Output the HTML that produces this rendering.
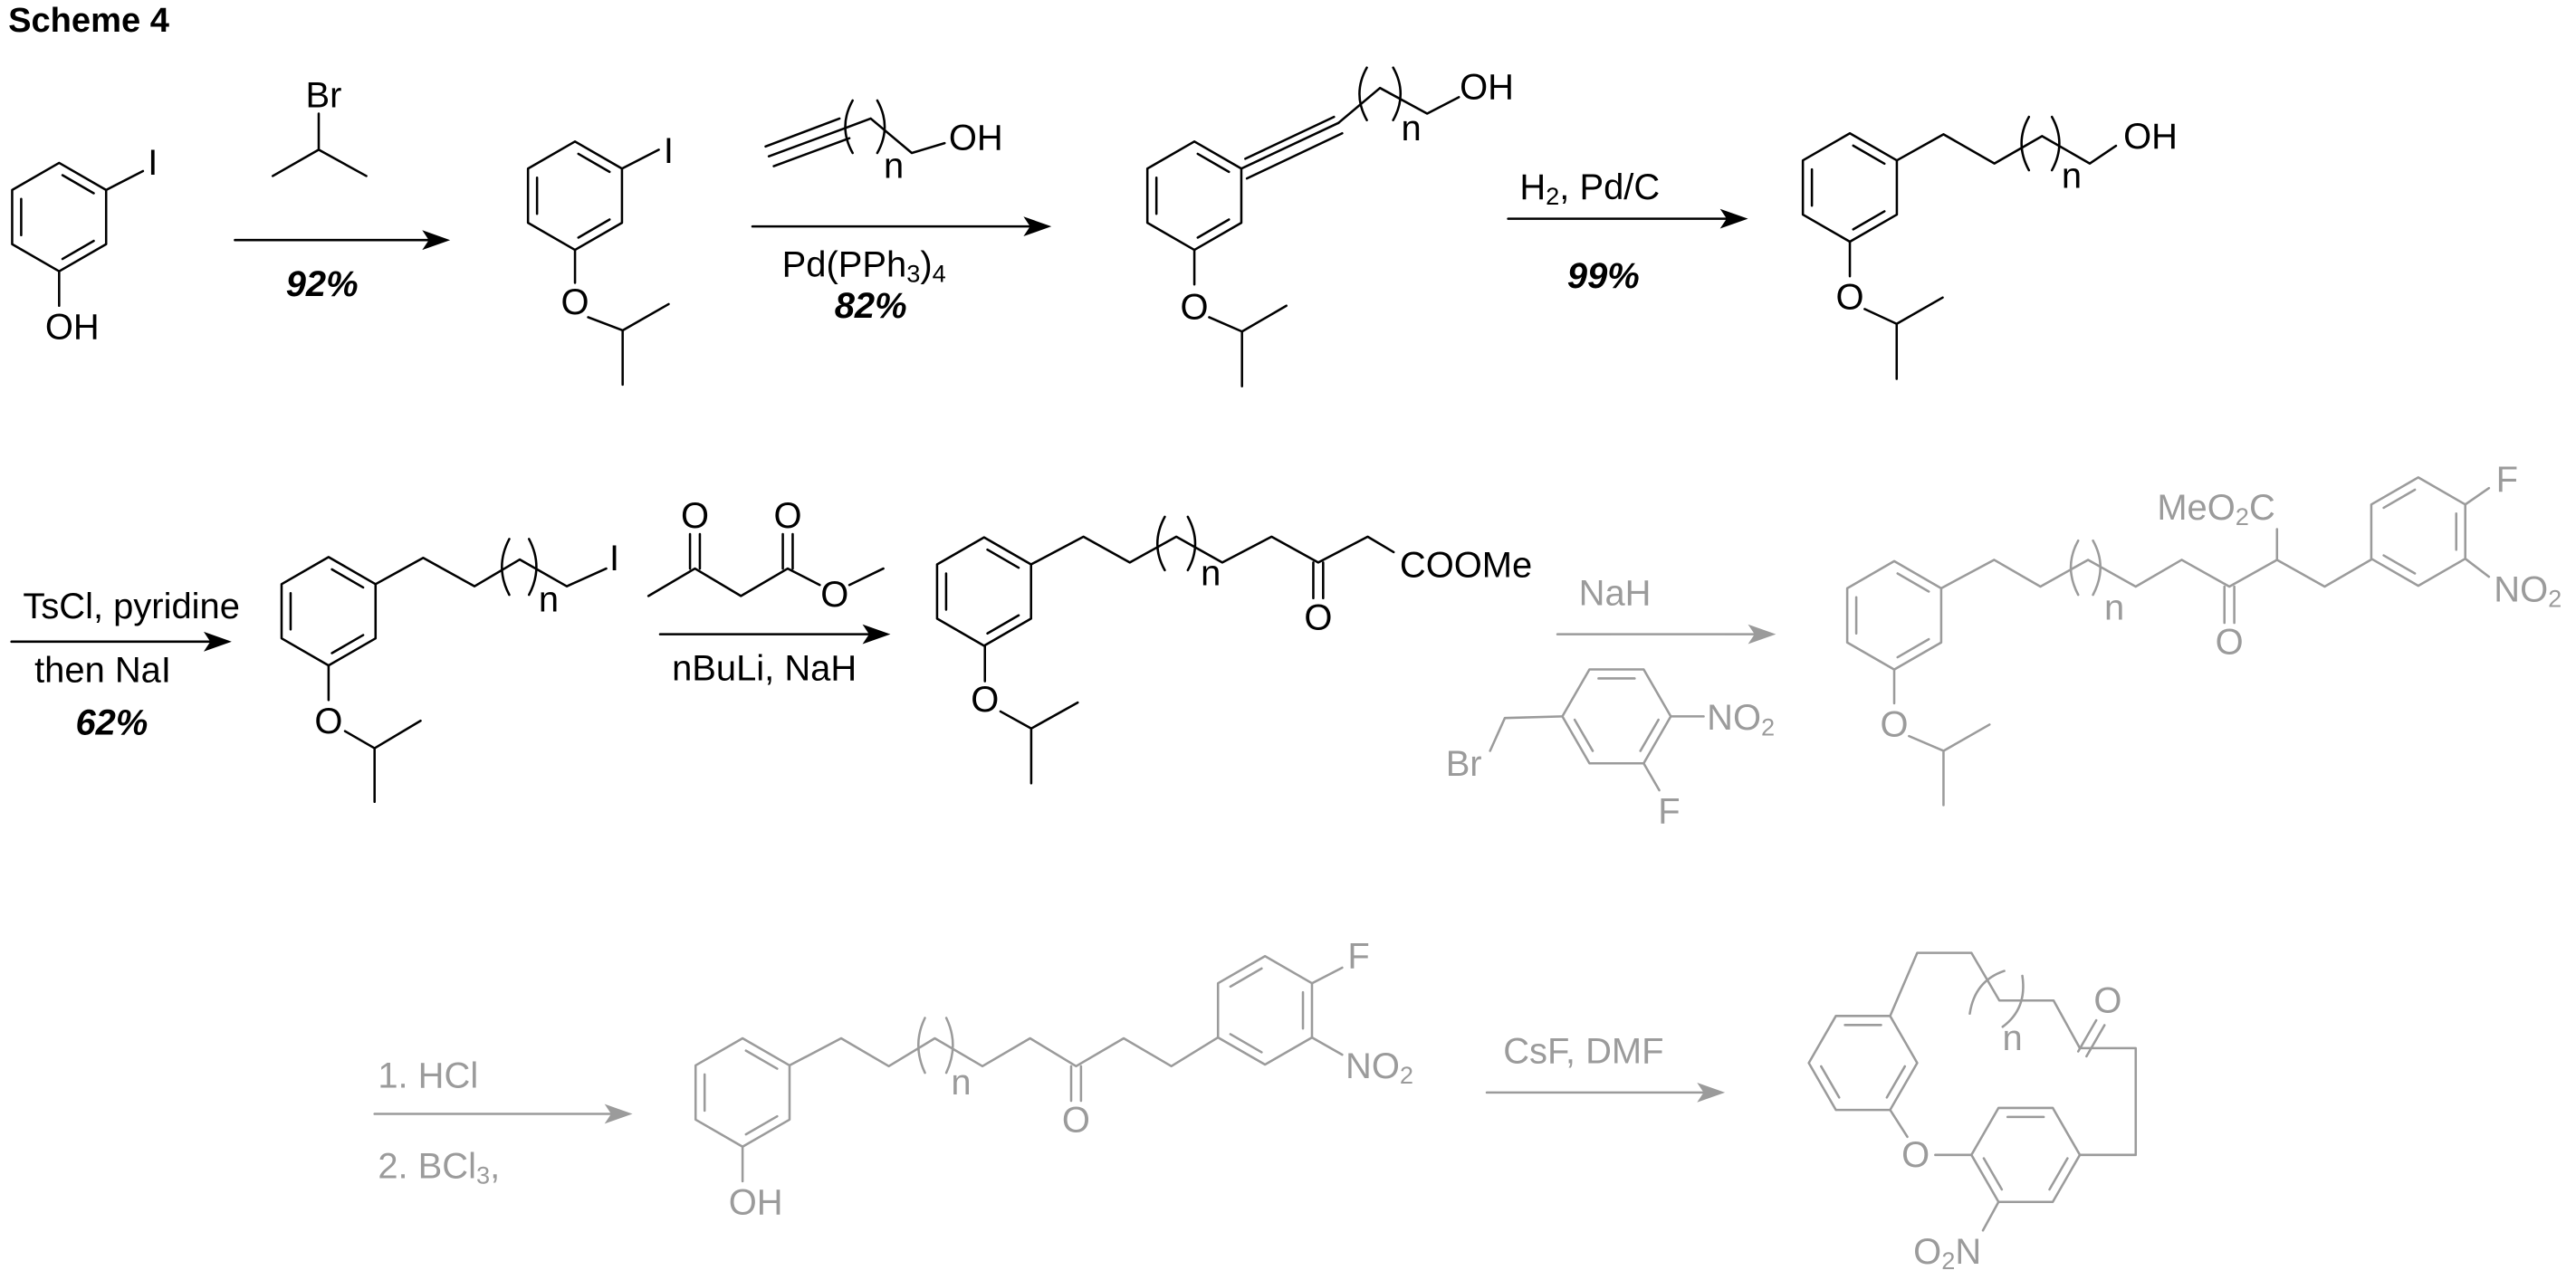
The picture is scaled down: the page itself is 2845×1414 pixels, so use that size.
<!DOCTYPE html>
<html><head><meta charset="utf-8"><style>
html,body{margin:0;padding:0;background:#fff;}
svg{display:block;}
text{font-family:"Liberation Sans",Arial,sans-serif;font-size:22px;}
.c{text-anchor:middle;dominant-baseline:central;}
.s{dominant-baseline:central;}
.b{font-weight:bold;font-style:italic;}
</style></head><body>
<svg width="2845" height="1414" viewBox="0 0 1568 779" xmlns="http://www.w3.org/2000/svg">
<defs>
<g id="rA" fill="none">
<path d="M0,-33 L28.6,-16.5 L28.6,16.5 L0,33 L-28.6,16.5 L-28.6,-16.5 Z"/>
<path d="M-23.1,-11 L-23.1,11 M2.05,-25.5 L21.05,-14.5 M21.05,14.5 L2.05,25.5"/>
</g>
<g id="rB" fill="none">
<path d="M0,-33 L28.6,-16.5 L28.6,16.5 L0,33 L-28.6,16.5 L-28.6,-16.5 Z"/>
<path d="M23.1,-11 L23.1,11 M-2.05,-25.5 L-21.05,-14.5 M-21.05,14.5 L-2.05,25.5"/>
</g>
<g id="rC" fill="none">
<path d="M33,0 L16.5,28.6 L-16.5,28.6 L-33,0 L-16.5,-28.6 L16.5,-28.6 Z"/>
<path d="M-11,-23.1 L11,-23.1 M25.5,2.05 L14.5,21.05 M-25.5,2.05 L-14.5,21.05"/>
</g>
</defs>

<text x="5" y="19" style="font-weight:bold;font-size:21px">Scheme 4</text>

<!-- ROW 1 : black -->
<g stroke="#000" stroke-width="1.4" fill="none" stroke-linecap="round" stroke-linejoin="round">
<use href="#rA" transform="translate(36,132)"/>
<path d="M64.6,115.5 L87,104 M36,165 L36,186"/>
<path d="M194,69 L194,91 M194,91 L166,107 M194,91 L223,107"/>
<path d="M143,146 L262,146"/>
<use href="#rA" transform="translate(350,119)"/>
<path d="M378.6,102.5 L401,91 M350,152 L350,172 M358,193 L379,201 L407,185 M379,201 L379,234"/>
<!-- alkyne reagent -->
<path d="M468,95 L514,78 M466,89 L511,72 M471,101 L517,84 M514,78 L530,72 L555,93 L575,87"/>
<path d="M519,61 Q510,77 519,93 M534,61 Q543,77 534,93"/>
<path d="M458,137.7 L628,137.7"/>
<!-- mol3 -->
<use href="#rA" transform="translate(727,119)"/>
<path d="M755.6,102.5 L814.7,74.7 M758,96.5 L812,71 M759,108.5 L817,81"/>
<path d="M814.7,74.7 L840,53.4 L868.7,69 L888,59"/>
<path d="M832,41 Q823,57 832,73 M848,41 Q857,57 848,73"/>
<path d="M727,152 L727,173 M736,193 L756,201.7 L783,186 M756,201.7 L756,235"/>
<path d="M918,133 L1052,133"/>
<!-- mol4 -->
<use href="#rA" transform="translate(1126,114)"/>
<path d="M1154.6,97.5 L1183,81.6 L1214,99.4 L1243,82.7 L1272,99.4 L1288,88.6"/>
<path d="M1235,71 Q1226,87 1235,103.5 M1249,71 Q1258,87 1249,103.5"/>
<path d="M1126,147 L1126,168 M1135,188 L1154.5,197 L1182.5,181 M1154.5,197 L1154.5,230.5"/>
</g>
<g fill="#000">
<polygon points="274,146 257,140 261,146 257,152"/>
<polygon points="640,137.7 623,131.7 627,137.7 623,143.7"/>
<polygon points="1064,133 1047,127 1051,133 1047,139"/>
</g>
<g fill="#000">
<text class="c" x="93" y="99">I</text>
<text class="c" x="44" y="199">OH</text>
<text class="c" x="197" y="58">Br</text>
<text class="c b" x="196" y="173">92%</text>
<text class="c" x="407" y="92">I</text>
<text class="c" x="350" y="184">O</text>
<text class="c" x="594" y="84">OH</text>
<text class="c" x="544" y="101">n</text>
<text class="s" x="476" y="161">Pd(PPh<tspan font-size="15" dy="5">3</tspan><tspan dy="-5">)</tspan><tspan font-size="15" dy="5">4</tspan></text>
<text class="c b" x="530" y="186">82%</text>
<text class="c" x="905" y="53">OH</text>
<text class="c" x="859" y="78">n</text>
<text class="c" x="727" y="187">O</text>
<text class="s" x="925" y="114">H<tspan font-size="15" dy="5">2</tspan><tspan dy="-5">, Pd/C</tspan></text>
<text class="c b" x="976" y="168">99%</text>
<text class="c" x="1309" y="83">OH</text>
<text class="c" x="1261" y="107">n</text>
<text class="c" x="1126" y="181">O</text>
</g>

<!-- ROW 2 : black -->
<g stroke="#000" stroke-width="1.4" fill="none" stroke-linecap="round" stroke-linejoin="round">
<path d="M7,390.5 L128,390.5"/>
<use href="#rA" transform="translate(200,372)"/>
<path d="M228.6,355.5 L257.6,339.5 L288.8,356.8 L316.4,340.5 L345,356.8 L369,346"/>
<path d="M310,328 Q301,345 310,362 M322,328 Q331,345 322,362"/>
<path d="M200,405 L200,426 M210,445 L228,455.4 L256,438.7 M228,455.4 L228,488"/>
<!-- acetoacetate -->
<path d="M394.7,362.7 L423,346 L451,362.7 L479.5,346 L499,356 M517,356 L537.7,346"/>
<path d="M420,346 L420,325 M426,346 L426,325 M476.5,346 L476.5,325 M482.5,346 L482.5,325"/>
<path d="M401.8,386 L529,386"/>
<!-- mol6 -->
<use href="#rA" transform="translate(599,360)"/>
<path d="M627.6,343.5 L659.5,326.6 L687.7,342.3 L716,326.6 L744,342.3 L774,326.6 L802.4,342.3 L832.5,326.6 L848.3,336"/>
<path d="M709,314.5 Q700,331 709,347 M723,314.5 Q732,331 723,347"/>
<path d="M799.4,342.3 L799.4,364 M805.4,342.3 L805.4,364"/>
<path d="M599.5,393 L599.5,414.6 M609,433 L627.7,443.4 L656,427.6 M627.7,443.4 L627.7,476.7"/>
</g>
<g fill="#000">
<polygon points="141,390.5 124,384.5 128,390.5 124,396.5"/>
<polygon points="542,386 525,380 529,386 525,392"/>
</g>
<g fill="#000">
<text class="s" x="14" y="369">TsCl, pyridine</text>
<text class="s" x="21" y="408">then NaI</text>
<text class="c b" x="68" y="440">62%</text>
<text class="c" x="374" y="340">I</text>
<text class="c" x="334" y="365">n</text>
<text class="c" x="200" y="439">O</text>
<text class="c" x="423" y="314">O</text>
<text class="c" x="479.5" y="314">O</text>
<text class="c" x="508" y="362">O</text>
<text class="s" x="409" y="407">nBuLi, NaH</text>
<text class="c" x="737" y="349">n</text>
<text class="c" x="802.4" y="376">O</text>
<text class="s" x="852" y="344">COOMe</text>
<text class="c" x="599.5" y="426">O</text>
</g>

<!-- GRAY -->
<g stroke="#9b9b9b" stroke-width="1.4" fill="none" stroke-linecap="round" stroke-linejoin="round">
<path d="M948,386 L1069,386"/>
<!-- benzyl bromide -->
<use href="#rC" transform="translate(984,436)"/>
<path d="M1017,436 L1037,436 M951,436 L916,437 L907,457 M1000.5,464.6 L1010,481"/>
<!-- mol7 -->
<use href="#rA" transform="translate(1153,374.5)"/>
<path d="M1181.6,358 L1213.8,340.7 L1242,357 L1271,340.7 L1300,357 L1328,340.7 L1357,357 L1386,340.7 L1415,357 L1443.4,340.5"/>
<path d="M1386,340.7 L1386,322"/>
<path d="M1354,357 L1354,379 M1360,357 L1360,379"/>
<path d="M1265,329 Q1256,345 1265,362 M1274,329 Q1283,345 1274,362"/>
<use href="#rB" transform="translate(1472,323.5)"/>
<path d="M1500.6,307 L1515,297 M1500.6,340 L1515,351"/>
<path d="M1153,407.5 L1153,428 M1162,448 L1183,457 L1211,441 M1183,457 L1183,490"/>
<!-- row 3 -->
<path d="M228,678 L373,678"/>
<use href="#rA" transform="translate(452,665)"/>
<path d="M452,698 L452,719"/>
<path d="M480.6,648.5 L512,632 L541,649 L569,632 L598,649 L627,632 L655,649 L684,632 L713,649 L741.4,631.5"/>
<path d="M652,649 L652,670 M658,649 L658,670"/>
<path d="M563,619.6 Q555,636 563,653 M576,619.6 Q584,636 576,653"/>
<use href="#rB" transform="translate(770,615)"/>
<path d="M798.6,598.5 L817,589 M798.6,631.5 L817,642"/>
<path d="M905,665 L1038,665"/>
<!-- macrocycle -->
<use href="#rC" transform="translate(1134,647)"/>
<use href="#rC" transform="translate(1233,703)"/>
<path d="M1150.5,618.4 L1167,580 L1200,580 L1217,609 L1250,609 L1266,638 L1300,638 L1300,703 L1266,703"/>
<path d="M1265,640 L1276,621 M1270,643 L1281,624"/>
<path d="M1150.5,675.6 L1161,692 M1178,703 L1200,703 M1216.5,731.6 L1207,749"/>
<path d="M1220,591 Q1202,597 1199,617 M1231,594 Q1234,614 1219,625"/>
</g>
<g fill="#9b9b9b">
<polygon points="1081,386 1064,380 1068,386 1064,392"/>
<polygon points="385,678 368,672 372,678 368,684"/>
<polygon points="1050,665 1033,659 1037,665 1033,671"/>
</g>
<g fill="#9b9b9b">
<text class="c" x="983" y="361">NaH</text>
<text class="c" x="891" y="465">Br</text>
<text class="s" x="1039" y="437">NO<tspan font-size="15" dy="5">2</tspan></text>
<text class="c" x="1016" y="494">F</text>
<text class="s" x="1313" y="309">MeO<tspan font-size="15" dy="5">2</tspan><tspan dy="-5">C</tspan></text>
<text class="c" x="1357" y="391">O</text>
<text class="c" x="1287" y="370">n</text>
<text class="c" x="1526" y="292">F</text>
<text class="s" x="1518" y="359">NO<tspan font-size="15" dy="5">2</tspan></text>
<text class="c" x="1153" y="441">O</text>
<text class="s" x="230" y="655">1. HCl</text>
<text class="s" x="230" y="710">2. BCl<tspan font-size="15" dy="5">3</tspan><tspan dy="-5">,</tspan></text>
<text class="c" x="460" y="732">OH</text>
<text class="c" x="585" y="659">n</text>
<text class="c" x="655" y="682">O</text>
<text class="c" x="827" y="582">F</text>
<text class="s" x="819" y="649">NO<tspan font-size="15" dy="5">2</tspan></text>
<text class="s" x="915" y="640">CsF, DMF</text>
<text class="c" x="1225" y="632">n</text>
<text class="c" x="1283" y="609">O</text>
<text class="c" x="1166" y="703">O</text>
<text class="s" x="1206" y="762" text-anchor="end">O<tspan font-size="15" dy="5">2</tspan><tspan dy="-5">N</tspan></text>
</g>
</svg>
</body></html>
